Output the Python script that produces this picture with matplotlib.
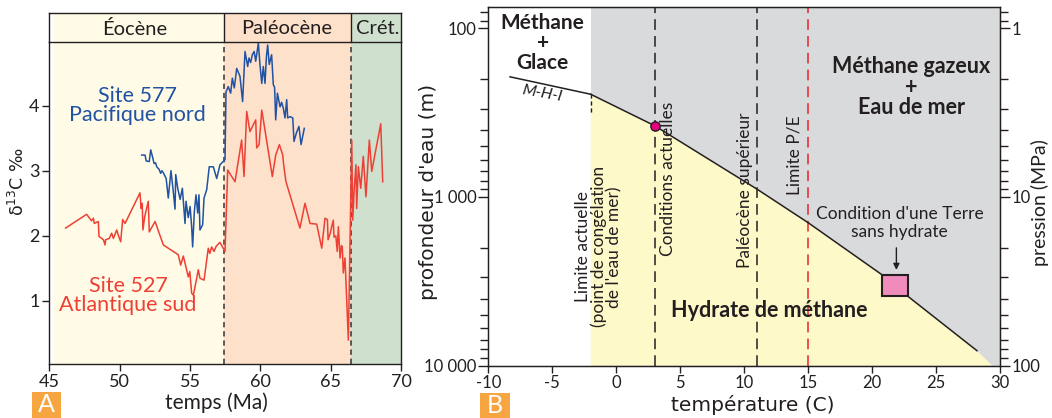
import matplotlib
matplotlib.use("Agg")
import matplotlib.pyplot as plt
from matplotlib.patches import Rectangle
from matplotlib.ticker import FixedLocator, NullFormatter, LogLocator

plt.rcParams['font.family'] = ['Lato', 'DejaVu Sans']
TXT = '#231f20'

# ---------------- Panel A data ----------------
site527_age = [46.16, 47.65, 48.0, 48.13, 48.2, 48.48, 48.53, 48.72, 48.84, 48.96, 49.0, 49.26,
               49.43, 49.55, 49.79, 49.9, 50.07, 50.21, 50.38, 51.44, 51.52, 51.6, 51.65, 51.78,
               52.03, 52.1, 52.51, 53.1, 54.16, 54.33, 54.52, 54.87, 54.98, 55.11, 55.23, 55.47,
               55.58, 55.7, 55.99, 56.29, 56.4, 56.53, 56.7, 56.85, 57.12, 57.48, 57.67, 58.19,
               58.66, 58.83, 59.02, 59.25, 59.66, 59.73, 59.9, 60.09, 60.32, 60.84, 61.08, 61.34,
               61.58, 61.62, 61.7, 61.81, 62.8, 63.16, 63.52, 63.99, 64.35, 64.58, 64.75, 64.8,
               64.95, 65.17, 65.22, 65.35, 65.45, 65.53, 65.65, 65.75, 65.81, 65.88, 66.0, 66.24,
               66.48, 66.55, 66.65, 66.78, 66.83, 66.95, 67.12, 67.3, 67.49, 67.73, 67.9, 68.54,
               68.68]
site527_d13c = [2.12, 2.33, 2.23, 2.27, 2.19, 2.22, 1.99, 1.96, 1.94, 1.86, 1.94, 1.96,
                2.04, 1.96, 2.09, 2.01, 1.91, 2.25, 2.19, 2.66, 2.42, 2.5, 2.09, 2.3,
                2.53, 2.06, 2.22, 1.86, 1.71, 1.55, 1.69, 1.37, 1.45, 1.12, 1.09, 1.35,
                1.48, 1.35, 1.32, 1.81, 1.73, 1.83, 1.76, 1.84, 1.9, 1.76, 3.01, 2.83,
                3.47, 2.91, 3.91, 3.6, 3.78, 3.35, 3.4, 3.93, 3.62, 2.91, 3.24, 3.4,
                3.24, 3.14, 3.0, 2.83, 2.12, 2.5, 2.19, 2.18, 1.81, 2.27, 2.25, 1.94,
                2.04, 2.24, 1.98, 2.0, 1.76, 2.14, 1.66, 1.85, 1.83, 1.43, 1.66, 0.4,
                3.47, 2.24, 2.7, 3.09, 2.42, 3.06, 2.73, 3.22, 2.6, 3.47, 2.99, 3.72,
                2.83]

site577_age = [51.56, 51.8, 51.88, 52.1, 52.2, 52.3, 52.44, 52.55, 52.63, 52.8, 52.91, 53.0,
               53.12, 53.3, 53.45, 53.64, 53.78, 53.93, 53.98, 54.12, 54.29, 54.45, 54.64, 54.71,
               54.87, 55.0, 55.11, 55.18, 55.3, 55.42, 55.54, 55.63, 55.7, 55.89, 55.99, 56.18,
               56.36, 56.65, 56.89, 57.12, 57.48, 57.55, 57.71, 57.88, 58.0, 58.14, 58.31, 58.54,
               58.73, 58.9, 59.09, 59.18, 59.3, 59.42, 59.55, 59.66, 59.85, 59.96, 60.09, 60.2,
               60.32, 60.42, 60.51, 60.62, 60.79, 60.91, 61.0, 61.08, 61.2, 61.39, 61.5, 61.62,
               61.74, 61.86, 61.93, 62.1, 62.29, 62.38, 62.55, 62.73, 62.88, 63.11]
site577_d13c = [3.24, 3.24, 3.15, 3.14, 3.32, 3.24, 3.11, 3.12, 3.06, 3.02, 2.96, 3.0,
                2.96, 2.88, 2.58, 3.0, 2.73, 2.41, 2.94, 2.73, 2.56, 2.73, 2.19, 2.53,
                2.28, 2.45, 2.14, 1.83, 2.37, 2.63, 2.35, 2.63, 2.09, 2.17, 2.58, 2.71,
                3.06, 3.06, 2.88, 3.09, 3.17, 4.21, 4.29, 4.19, 4.42, 4.27, 4.57, 4.45,
                4.06, 4.83, 4.6, 4.73, 4.66, 4.78, 4.83, 4.68, 4.96, 4.63, 4.34, 4.6,
                4.34, 4.75, 4.93, 4.63, 4.78, 4.32, 4.28, 3.78, 4.19, 3.98, 4.05, 3.96,
                3.81, 4.09, 3.81, 3.83, 3.81, 3.45, 3.58, 3.68, 3.4, 3.65]

epoch_names = ['Éocène', 'Paléocène', 'Crét.']
epoch_bounds = [45.36, 57.4, 66.4, 70.0]
epoch_colors = ['#fffbe6', '#fde1cb', '#cfe0ce']
epoch_label_x = [51.09, 61.88, 68.35]

# ---------------- Panel B data ----------------
mhi_T = [-8.3, -2.0]
mhi_D = [194, 246]
hyd_T = [-2.0, 3.0, 11.0, 15.0, 20.8, 22.8, 28.2]
hyd_D = [246, 378, 898, 1420, 2900, 3880, 8150]
hyd_fill_end = (29.4, 10000)
present_T, present_D = 3.0, 378
vlines_T = [3.0, 11.0, 15.0]
vlines_col = ['#231f20', '#231f20', '#e8232a']
box_T = [20.8, 22.8]
box_D = [2900, 3880]

W, H = 1052, 418
fig = plt.figure(figsize=(W / 100, H / 100), dpi=100)


def fx(px):
    return px / W


def fy(py):
    return 1 - py / H


# ======== Panel A ========
axA = fig.add_axes([fx(49.3), fy(364.3), fx(401.3) - fx(49.3), fy(41.7) - fy(364.3)])
axH = fig.add_axes([fx(49.3), fy(41.7), fx(401.3) - fx(49.3), fy(12.7) - fy(41.7)])
for ax in (axA, axH):
    ax.set_xlim(45, 70)
    for i in range(3):
        ax.axvspan(epoch_bounds[i], epoch_bounds[i + 1], color=epoch_colors[i], lw=0, zorder=0)
    for s in ax.spines.values():
        s.set_color(TXT)
        s.set_linewidth(1.0)
axA.set_ylim(0.028, 4.98)
for b in epoch_bounds[1:3]:
    axA.axvline(b, color='#333333', lw=1.1, ls=(0, (3.5, 2.5)), zorder=1)
    axH.axvline(b, color=TXT, lw=1.0, zorder=1)
axA.plot(site527_age, site527_d13c, color='#ee4035', lw=1.1, zorder=3)
axA.plot(site577_age, site577_d13c, color='#2152a3', lw=1.1, zorder=3)
axA.set_xticks([45, 50, 55, 60, 65, 70])
axA.set_yticks([1, 2, 3, 4])
axA.tick_params(direction='out', length=5, width=1, colors=TXT, labelsize=13, pad=2)
axA.spines['top'].set_visible(False)
axA.text(51.23, 4.0, 'Site 577\nPacifique nord', color='#2152a3', fontsize=15.5,
         ha='center', va='center', linespacing=0.95)
axA.text(50.59, 1.08, 'Site 527\nAtlantique sud', color='#ee4035', fontsize=15.5,
         ha='center', va='center', linespacing=0.95)
axH.set_ylim(0, 1)
axH.set_xticks([])
axH.set_yticks([])
for name, x in zip(epoch_names, epoch_label_x):
    axH.text(x, 0.45, name, ha='center', va='center', fontsize=14.5, color=TXT)
fig.text(fx(17.5), fy(182), 'δ$^{13}$C ‰', rotation=90, ha='center', va='center',
         fontsize=12.5, color=TXT, family=['DejaVu Sans'])
fig.text(fx(216.7), fy(403), 'temps (Ma)', ha='center', va='center', fontsize=15, color=TXT)
fig.patches.append(Rectangle((fx(31.7), 0), fx(61) - fx(31.7), fy(391.7), transform=fig.transFigure,
                             color='#f7a541', lw=0))
fig.text(fx(46.3), fy(405), 'A', ha='center', va='center', fontsize=18, color='white')

# ======== Panel B ========
axB = fig.add_axes([fx(488.3), fy(365.7), fx(1000) - fx(488.3), fy(6.7) - fy(365.7)])
axB.set_xlim(-10, 30)
axB.set_yscale('log')
axB.set_ylim(10000, 74.5)
axB.axvspan(-2, 30, color='#d9dadc', lw=0, zorder=0)
poly_T = hyd_T + [hyd_fill_end[0], hyd_T[0]]
poly_D = hyd_D + [hyd_fill_end[1], hyd_fill_end[1]]
axB.fill(poly_T, poly_D, color='#fef9c9', lw=0, zorder=1)
for t, c in zip(vlines_T, vlines_col):
    axB.axvline(t, color=c, lw=1.1, ls=(0, (7, 4)), zorder=2)
axB.plot([hyd_T[0], hyd_T[0]], [hyd_D[0], 319], color=TXT, lw=1.0, ls=(0, (3, 2)), zorder=2)
axB.plot(mhi_T, mhi_D, color=TXT, lw=1.1, zorder=3)
axB.plot(hyd_T, hyd_D, color=TXT, lw=1.1, zorder=3)
axB.add_patch(Rectangle((box_T[0], box_D[0]), box_T[1] - box_T[0], box_D[1] - box_D[0],
                        facecolor='#f08cbb', edgecolor=TXT, lw=1.5, zorder=4))
axB.scatter([present_T], [present_D], s=45, color='#e6007e', edgecolor=TXT, lw=1.0, zorder=5)
axB.annotate('', xy=(21.9, 2810), xytext=(21.9, 1928),
             arrowprops=dict(arrowstyle='-|>', color=TXT, lw=1.0, mutation_scale=9), zorder=5)

axB.text(-5.75, 122, 'Méthane\n+\nGlace', ha='center', va='center', fontsize=15,
         fontweight='bold', color=TXT, linespacing=0.98)
axB.text(23.08, 223, 'Méthane gazeux\n+\nEau de mer', ha='center', va='center', fontsize=15.5,
         fontweight='bold', color=TXT, linespacing=0.98)
axB.text(11.99, 4680, 'Hydrate de méthane', ha='center', va='center', fontsize=15.5,
         fontweight='bold', color=TXT)
axB.text(22.16, 1426, "Condition d'une Terre\nsans hydrate", ha='center', va='center',
         fontsize=12.5, color=TXT, linespacing=1.1)
axB.text(-5.8, 243, 'M-H-I', ha='center', va='center', fontsize=11.5, style='italic',
         rotation=-10, color=TXT)
axB.text(-1.35, 1977, "Limite actuelle\n(point de congélation\nde l'eau de mer)", rotation=90,
         ha='center', va='center', fontsize=12.5, color=TXT, linespacing=0.95)
axB.text(4.07, 776, 'Conditions actuelles', rotation=90, ha='center', va='center',
         fontsize=12.5, color=TXT)
axB.text(10.05, 918, 'Paléocène supérieur', rotation=90, ha='center', va='center',
         fontsize=12.5, color=TXT)
axB.text(13.95, 564, 'Limite P/E', rotation=90, ha='center', va='center',
         fontsize=12.5, color=TXT)

axB.set_xticks([-10, -5, 0, 5, 10, 15, 20, 25, 30])
axB.set_xticklabels(['-10', '-5', '0', '5', '10', '15', '20', '25', '30'])
axB.yaxis.set_major_locator(FixedLocator([100, 1000, 10000]))
axB.set_yticklabels(['100', '1 000', '10 000'])
axB.yaxis.set_minor_locator(LogLocator(base=10, subs=range(2, 10)))
axB.yaxis.set_minor_formatter(NullFormatter())
axB.tick_params(which='major', direction='out', length=7, width=1, colors=TXT, labelsize=12, pad=1.5)
axB.tick_params(which='minor', direction='out', length=6, width=1, colors=TXT)
axB.tick_params(axis='x', length=5)
for s in axB.spines.values():
    s.set_color(TXT)
    s.set_linewidth(1.0)

axP = axB.twinx()
axP.set_yscale('log')
axP.set_ylim(100, 0.745)
axP.yaxis.set_major_locator(FixedLocator([1, 10, 100]))
axP.set_yticklabels(['1', '10', '100'])
axP.yaxis.set_minor_locator(LogLocator(base=10, subs=range(2, 10)))
axP.yaxis.set_minor_formatter(NullFormatter())
axP.tick_params(which='major', direction='out', length=7, width=1, colors=TXT, labelsize=12, pad=1.5)
axP.tick_params(which='minor', direction='out', length=6, width=1, colors=TXT)
for s in axP.spines.values():
    s.set_color(TXT)

fig.text(fx(428), fy(191.5), "profondeur d'eau (m)", rotation=90, ha='center', va='center',
         fontsize=14.5, color=TXT, family=['DejaVu Sans'])
fig.text(fx(753), fy(405), 'température (C)', ha='center', va='center',
         fontsize=14.5, color=TXT, family=['DejaVu Sans'])
fig.text(fx(1040), fy(202.5), 'pression (MPa)', rotation=90, ha='center', va='center',
         fontsize=14, color=TXT)
fig.patches.append(Rectangle((fx(480), 0), fx(510) - fx(480), fy(393.3), transform=fig.transFigure,
                             color='#f7a541', lw=0))
fig.text(fx(495), fy(405.5), 'B', ha='center', va='center', fontsize=18, color='white')

fig.savefig('out.png', dpi=100)
